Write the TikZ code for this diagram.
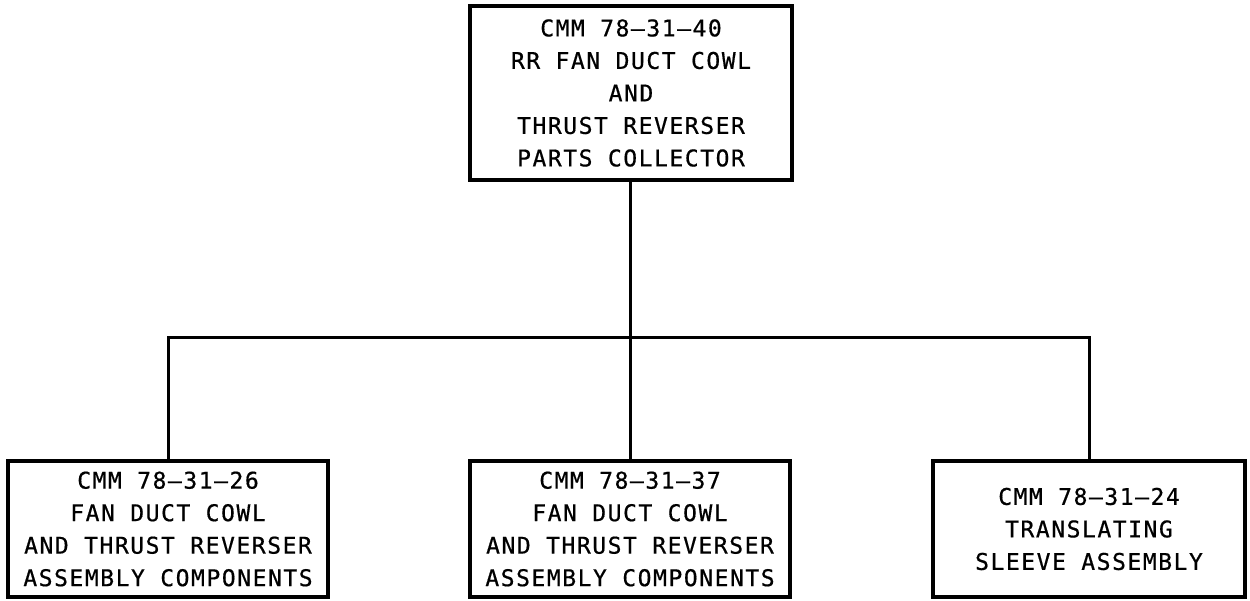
\documentclass[tikz,border=0pt]{standalone}
\usepackage{fontspec}
\newfontfamily\cadfont{DejaVu Sans Mono}[LetterSpace=6.7,FakeBold=0.6]
\begin{document}
\begin{tikzpicture}[x=1pt,y=1pt,
  box/.style={draw=black, line width=4pt, fill=white, inner sep=0pt, align=center,
    font=\cadfont\fontsize{23}{32.5}\selectfont},
  link/.style={draw=black, line width=3pt}]
\useasboundingbox (0,0) rectangle (1250,600);
\node[box, minimum width=322pt, minimum height=174pt] (top) at (631,507)
  {CMM 78–31–40\\RR FAN DUCT COWL\\AND\\THRUST REVERSER\\PARTS COLLECTOR};
\node[box, minimum width=320pt, minimum height=136pt] (b1) at (168,71)
  {CMM 78–31–26\\FAN DUCT COWL\\AND THRUST REVERSER\\ASSEMBLY COMPONENTS};
\node[box, minimum width=320pt, minimum height=136pt] (b2) at (630,71)
  {CMM 78–31–37\\FAN DUCT COWL\\AND THRUST REVERSER\\ASSEMBLY COMPONENTS};
\node[box, minimum width=312pt, minimum height=136pt] (b3) at (1089,71)
  {CMM 78–31–24\\TRANSLATING\\SLEEVE ASSEMBLY};
\coordinate (jL) at (168,262);
\coordinate (jR) at (1089,262);
\coordinate (jM) at (630,262);
\draw[link] (top.south -| jM) -- (b2.north);
\draw[link] (b1.north) -- (jL) -- (jR) -- (b3.north);
\end{tikzpicture}
\end{document}
